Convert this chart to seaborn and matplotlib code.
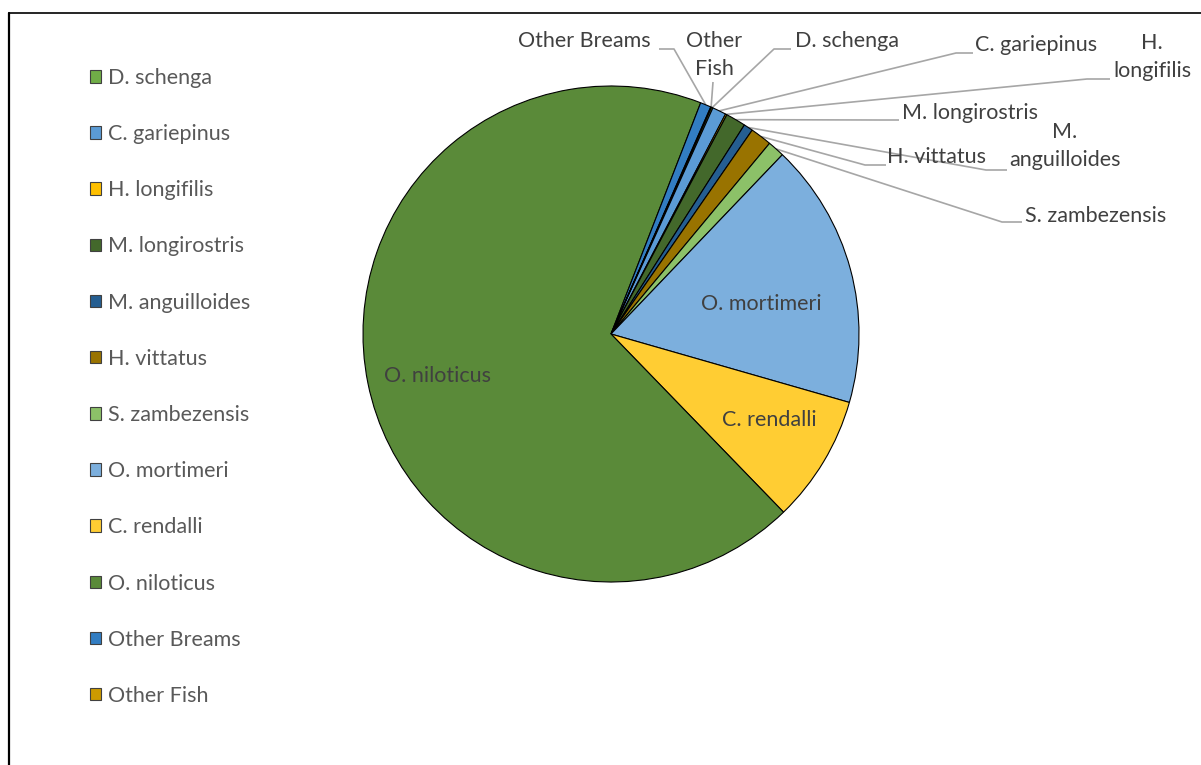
import numpy as np
import pandas as pd
import seaborn as sns
import matplotlib.pyplot as plt
from matplotlib.patches import Patch
from matplotlib.lines import Line2D

species = ['D. schenga', 'C. gariepinus', 'H. longifilis', 'M. longirostris',
           'M. anguilloides', 'H. vittatus', 'S. zambezensis', 'O. mortimeri',
           'C. rendalli', 'O. niloticus', 'Other Breams', 'Other Fish']
share = [0.1, 0.9, 0.1, 1.3, 0.6, 1.4, 1.1, 17.3, 8.3, 68.1, 0.7, 0.05]
colors = ['#70AD47', '#5B9BD5', '#FFC000', '#43682B', '#255E91', '#997300',
          '#8CC168', '#7CAFDD', '#FFCD33', '#5A8A39', '#327DC2', '#CC9A00']

df = pd.DataFrame({'species': species, 'share': share, 'color': colors})

sns.set_theme(style='white')
plt.rcParams['font.family'] = ['Lato', 'DejaVu Sans']

W, H = 1201, 765
cx, cy, R = 611, 334, 248


def px(x, y):
    # pixel position -> data units (pie radius = 1)
    return ((x - cx) / R, (cy - y) / R)


fig = plt.figure(figsize=(W / 100, H / 100), dpi=100)
ax = fig.add_axes([0, 0, 1, 1])
wedges, _ = ax.pie(df['share'], colors=df['color'], startangle=66.1,
                   counterclock=False, radius=1,
                   wedgeprops=dict(edgecolor='black', linewidth=0.8))
ax.set_xlim(-cx / R, (W - cx) / R)
ax.set_ylim(-(H - cy) / R, cy / R)
ax.set_aspect('equal')
ax.axis('off')

txt = '#404040'
line_c = '#A6A6A6'
fs = 15.5

# inside labels
inside = {'O. mortimeri': (761, 304), 'C. rendalli': (769, 420), 'O. niloticus': (437, 376)}
for name, (x, y) in inside.items():
    ax.text(*px(x, y), name, ha='center', va='center', fontsize=fs, color=txt)

# outside labels: text pos, ha, text, elbow point, horizontal end
outside = {
    'Other Breams':    ((651, 41), 'right', 'Other Breams', (674, 49), (659, 49)),
    'Other Fish':      ((714, 55), 'center', 'Other\nFish', (713, 82), (713, 82)),
    'D. schenga':      ((795, 41), 'left', 'D. schenga', (774, 49), (791, 49)),
    'C. gariepinus':   ((975, 45), 'left', 'C. gariepinus', (956, 53), (973, 53)),
    'H. longifilis':   ((1152, 57), 'center', 'H.\nlongifilis', (1087, 79), (1110, 79)),
    'M. longirostris': ((902, 113), 'left', 'M. longirostris', (880, 120), (899, 120)),
    'M. anguilloides': ((1065, 146), 'center', 'M.\nanguilloides', (986, 170), (1007, 170)),
    'H. vittatus':     ((887, 157), 'left', 'H. vittatus', (865, 165), (886, 165)),
    'S. zambezensis':  ((1025, 216), 'left', 'S. zambezensis', (1002, 222), (1022, 222)),
}
for w, name in zip(wedges, species):
    if name not in outside:
        continue
    (tx, ty), ha, label, elbow, hend = outside[name]
    mid = np.deg2rad((w.theta1 + w.theta2) / 2)
    ex, ey = np.cos(mid), np.sin(mid)
    bx, by = px(*elbow)
    hx, hy = px(*hend)
    ax.plot([ex, bx, hx], [ey, by, hy], color=line_c, lw=1.2, solid_capstyle='butt', zorder=0)
    ax.text(*px(tx, ty), label, ha=ha, va='center', fontsize=fs, color=txt,
            linespacing=1.45)

handles = [Patch(facecolor=c, edgecolor='#404040', linewidth=0.8) for c in colors]
leg = fig.legend(handles, species, loc='upper left', bbox_to_anchor=(90 / W, 1 - 68 / H),
                 frameon=False, handlelength=0.52, handleheight=0.52,
                 handletextpad=0.33, labelspacing=1.68, borderpad=0, borderaxespad=0,
                 prop={'family': ['Lato', 'DejaVu Sans'], 'size': fs})
for t in leg.get_texts():
    t.set_color('#595959')

# chart-area border (left and top edges visible)
fig.add_artist(Line2D([9.3 / W, 9.3 / W], [0, 1 - 13 / H], color='black', lw=1.6))
fig.add_artist(Line2D([9.3 / W, 1], [1 - 13 / H, 1 - 13 / H], color='black', lw=1.2))

fig.savefig('out.png', dpi=100)
